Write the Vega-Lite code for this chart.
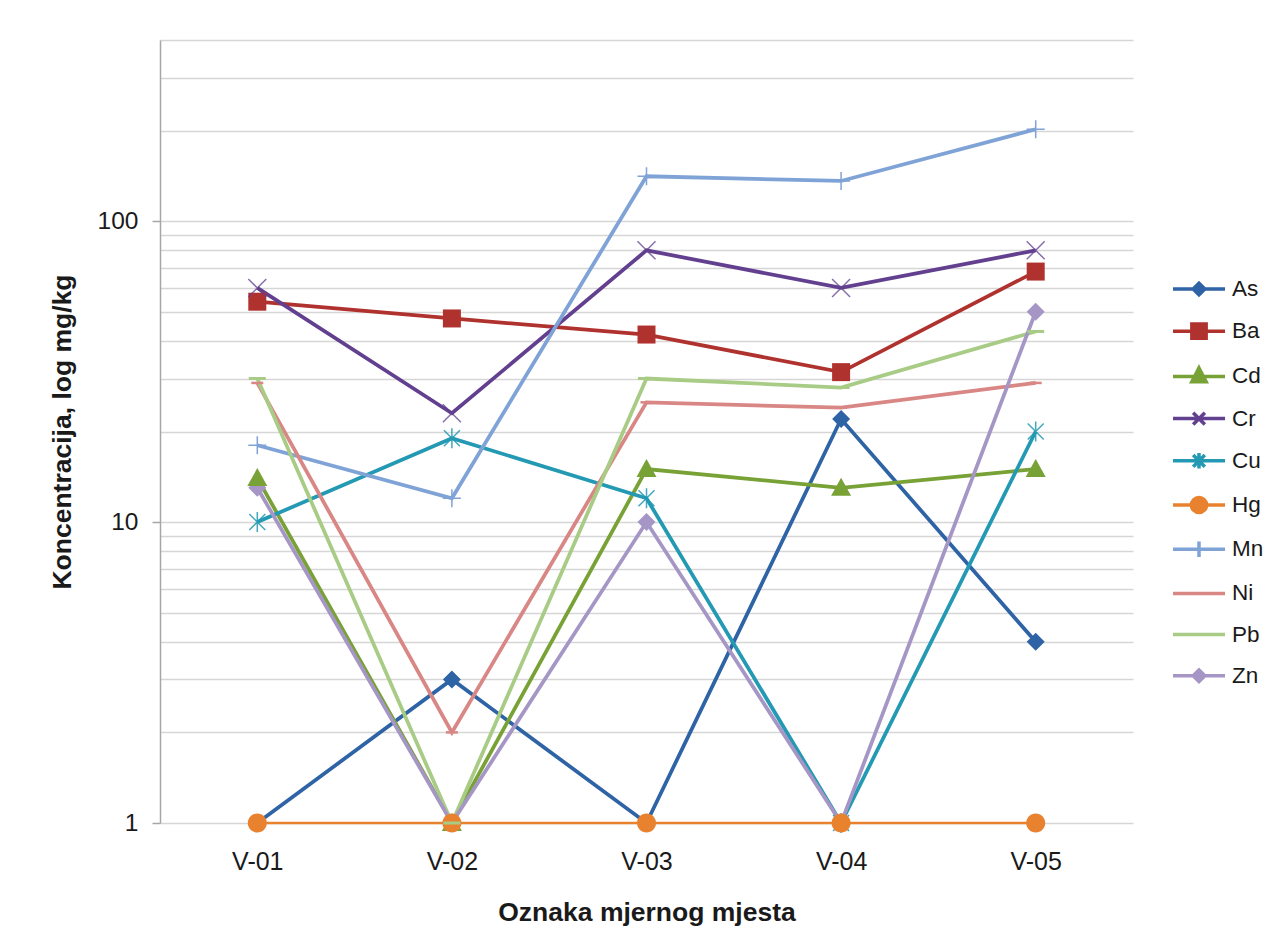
{
  "$schema": "https://vega.github.io/schema/vega-lite/v6.json",
  "autosize": {"type": "none"},
  "padding": {"left": 160, "top": 40, "right": 151, "bottom": 127},
  "width": 973,
  "height": 783,
  "background": "white",
  "config": {
    "font": "Liberation Sans",
    "view": {"stroke": null},
    "axis": {"labelFont": "Liberation Sans", "titleFont": "Liberation Sans", "labelColor": "#1a1a1a", "titleColor": "#1a1a1a"},
    "legend": {
      "labelFont": "Liberation Sans",
      "title": null, "orient": "none", "legendX": 1024, "legendY": 234, "padding": 0,
      "symbolSize": 676, "symbolStrokeWidth": 3.5, "labelFontSize": 22.5, "labelColor": "#1a1a1a",
      "labelOffset": 18, "rowPadding": 14.2, "symbolOpacity": 1
    }
  },
  "data": {
    "values": [
      {"site": "V-01", "element": "As", "v": 1},
      {"site": "V-02", "element": "As", "v": 3},
      {"site": "V-03", "element": "As", "v": 1},
      {"site": "V-04", "element": "As", "v": 22},
      {"site": "V-05", "element": "As", "v": 4},
      {"site": "V-01", "element": "Ba", "v": 54},
      {"site": "V-02", "element": "Ba", "v": 47.5},
      {"site": "V-03", "element": "Ba", "v": 42},
      {"site": "V-04", "element": "Ba", "v": 31.5},
      {"site": "V-05", "element": "Ba", "v": 68},
      {"site": "V-01", "element": "Cd", "v": 14},
      {"site": "V-02", "element": "Cd", "v": 1},
      {"site": "V-03", "element": "Cd", "v": 15},
      {"site": "V-04", "element": "Cd", "v": 13},
      {"site": "V-05", "element": "Cd", "v": 15},
      {"site": "V-01", "element": "Cr", "v": 60},
      {"site": "V-02", "element": "Cr", "v": 23},
      {"site": "V-03", "element": "Cr", "v": 80},
      {"site": "V-04", "element": "Cr", "v": 60},
      {"site": "V-05", "element": "Cr", "v": 80},
      {"site": "V-01", "element": "Cu", "v": 10},
      {"site": "V-02", "element": "Cu", "v": 19},
      {"site": "V-03", "element": "Cu", "v": 12},
      {"site": "V-04", "element": "Cu", "v": 1},
      {"site": "V-05", "element": "Cu", "v": 20},
      {"site": "V-01", "element": "Hg", "v": 1},
      {"site": "V-02", "element": "Hg", "v": 1},
      {"site": "V-03", "element": "Hg", "v": 1},
      {"site": "V-04", "element": "Hg", "v": 1},
      {"site": "V-05", "element": "Hg", "v": 1},
      {"site": "V-01", "element": "Mn", "v": 18},
      {"site": "V-02", "element": "Mn", "v": 12},
      {"site": "V-03", "element": "Mn", "v": 141},
      {"site": "V-04", "element": "Mn", "v": 136},
      {"site": "V-05", "element": "Mn", "v": 202},
      {"site": "V-01", "element": "Ni", "v": 29},
      {"site": "V-02", "element": "Ni", "v": 2},
      {"site": "V-03", "element": "Ni", "v": 25},
      {"site": "V-04", "element": "Ni", "v": 24},
      {"site": "V-05", "element": "Ni", "v": 29},
      {"site": "V-01", "element": "Pb", "v": 30},
      {"site": "V-02", "element": "Pb", "v": 1},
      {"site": "V-03", "element": "Pb", "v": 30},
      {"site": "V-04", "element": "Pb", "v": 28},
      {"site": "V-05", "element": "Pb", "v": 43},
      {"site": "V-01", "element": "Zn", "v": 13},
      {"site": "V-02", "element": "Zn", "v": 1},
      {"site": "V-03", "element": "Zn", "v": 10},
      {"site": "V-04", "element": "Zn", "v": 1},
      {"site": "V-05", "element": "Zn", "v": 50}
    ]
  },
  "encoding": {
    "x": {
      "field": "site",
      "type": "ordinal",
      "scale": {"type": "point", "padding": 0.5},
      "axis": {
        "title": "Oznaka mjernog mjesta",
        "labelAngle": 0,
        "labelFontSize": 25,
        "labelPadding": 26,
        "ticks": false,
        "tickSize": 0,
        "domain": false,
        "titleFontSize": 26.5,
        "titleFontWeight": "bold",
        "titleY": 89,
        "titleBaseline": "middle"
      }
    },
    "y": {
      "field": "v",
      "type": "quantitative",
      "scale": {"type": "log", "domain": [1, 400], "nice": false},
      "axis": {
        "title": "Koncentracija, log mg/kg",
        "values": [1, 2, 3, 4, 5, 6, 7, 8, 9, 10, 20, 30, 40, 50, 60, 70, 80, 90, 100, 200, 300, 400],
        "format": "d",
        "labelExpr": "datum.value == 1 || datum.value == 10 || datum.value == 100 ? datum.label : ''",
        "labelFontSize": 24.5,
        "labelPadding": 14,
        "tickSize": 8,
        "tickColor": "#a6a6a6",
        "tickWidth": 1.5,
        "tickOpacity": {"condition": {"test": "datum.value == 1 || datum.value == 10 || datum.value == 100", "value": 1}, "value": 0},
        "domainColor": "#a6a6a6",
        "domainWidth": 1.5,
        "grid": true,
        "gridColor": "#d6d6d6",
        "gridWidth": 1.5,
        "titleFontSize": 26.5,
        "titleFontWeight": "bold",
        "titleAngle": -90,
        "titleX": -98,
        "titleY": 391.5,
        "titleAlign": "center",
        "titleBaseline": "middle"
      }
    },
    "color": {
      "field": "element", "type": "nominal",
      "scale": {
        "domain": ["As", "Ba", "Cd", "Cr", "Cu", "Hg", "Mn", "Ni", "Pb", "Zn"],
        "range": ["#2E63A6", "#B0322F", "#78A136", "#62408F", "#2399B3", "#E8822F", "#7FA3D6", "#D98785", "#A8CC85", "#A596C6"]
      }
    }
  },
  "layer": [
    {
      "transform": [{"filter": "datum.element == 'Hg'"}],
      "mark": {"type": "line", "strokeWidth": 2.5}
    },
    {
      "transform": [{"filter": "datum.element != 'Hg'"}],
      "mark": {"type": "line", "strokeWidth": 3.75}
    },
    {
      "transform": [{"filter": "datum.element == 'As' || datum.element == 'Zn'"}],
      "mark": {"type": "point", "filled": true, "opacity": 1, "size": 400, "shape": "M0,-0.9L0.9,0L0,0.9L-0.9,0Z"}
    },
    {
      "transform": [{"filter": "datum.element == 'Ba'"}],
      "mark": {"type": "point", "filled": true, "opacity": 1, "size": 400, "shape": "M-0.9,-0.9H0.9V0.9H-0.9Z"}
    },
    {
      "transform": [{"filter": "datum.element == 'Cd'"}],
      "mark": {"type": "point", "filled": true, "opacity": 1, "size": 400, "shape": "M0,-1L1,0.8L-1,0.8Z"}
    },
    {
      "transform": [{"filter": "datum.element == 'Cr'"}],
      "mark": {"type": "point", "filled": false, "opacity": 0.75, "size": 400, "strokeWidth": 1.5, "shape": "M-0.9,-0.9L0.9,0.9M0.9,-0.9L-0.9,0.9"}
    },
    {
      "transform": [{"filter": "datum.element == 'Cu'"}],
      "mark": {"type": "point", "filled": false, "opacity": 0.85, "size": 400, "strokeWidth": 1.5, "shape": "M-0.8,-0.8L0.8,0.8M0.8,-0.8L-0.8,0.8M0,-1V1"}
    },
    {
      "transform": [{"filter": "datum.element == 'Hg'"}],
      "mark": {"type": "point", "filled": true, "opacity": 1, "size": 400, "shape": "M-0.95,0A0.95,0.95 0 1,0 0.95,0A0.95,0.95 0 1,0 -0.95,0Z"}
    },
    {
      "transform": [{"filter": "datum.element == 'Mn'"}],
      "mark": {"type": "point", "filled": false, "opacity": 1, "size": 400, "strokeWidth": 1.5, "shape": "M0,-0.9V0.9M-0.9,0H0.9"}
    },
    {
      "transform": [{"filter": "datum.element == 'Ni'"}],
      "mark": {"type": "point", "filled": false, "opacity": 1, "size": 400, "strokeWidth": 2.5, "shape": "M-0.6,0H0.6"}
    },
    {
      "transform": [{"filter": "datum.element == 'Pb'"}],
      "mark": {"type": "point", "filled": false, "opacity": 1, "size": 400, "strokeWidth": 3, "shape": "M-0.85,0H0.85"}
    },
    {
      "transform": [{"filter": "datum.v < 0"}],
      "mark": {"type": "point", "filled": true, "size": 676, "strokeWidth": 3.5, "opacity": 1},
      "encoding": {
        "fill": {
          "field": "element", "type": "nominal",
          "scale": {
            "domain": ["As", "Ba", "Cd", "Cr", "Cu", "Hg", "Mn", "Ni", "Pb", "Zn"],
            "range": ["#2E63A6", "#B0322F", "#78A136", "#62408F", "#2399B3", "#E8822F", "#7FA3D6", "#D98785", "#A8CC85", "#A596C6"]
          }
        },
        "stroke": {
          "field": "element", "type": "nominal",
          "scale": {
            "domain": ["As", "Ba", "Cd", "Cr", "Cu", "Hg", "Mn", "Ni", "Pb", "Zn"],
            "range": ["#2E63A6", "#B0322F", "#78A136", "#62408F", "#2399B3", "#E8822F", "#7FA3D6", "#D98785", "#A8CC85", "#A596C6"]
          }
        },
        "shape": {
          "field": "element", "type": "nominal",
          "scale": {
            "domain": ["As", "Ba", "Cd", "Cr", "Cu", "Hg", "Mn", "Ni", "Pb", "Zn"],
            "range": [
              "M-2,0H2M0,-0.45L0.45,0L0,0.45L-0.45,0Z",
              "M-2,0H2M-0.55,-0.55H0.55V0.55H-0.55Z",
              "M-2,0H2M0,-0.65L0.55,0.42H-0.55Z",
              "M-2,0H2M-0.45,-0.45L0.45,0.45M0.45,-0.45L-0.45,0.45",
              "M-2,0H2M-0.45,-0.45L0.45,0.45M0.45,-0.45L-0.45,0.45M0,-0.6V0.6",
              "M-2,0H2M-0.58,0A0.58,0.58 0 1,0 0.58,0A0.58,0.58 0 1,0 -0.58,0Z",
              "M-2,0H2M0,-0.6V0.6",
              "M-2,0H2",
              "M-2,0H2",
              "M-2,0H2M0,-0.45L0.45,0L0,0.45L-0.45,0Z"
            ]
          }
        }
      }
    }
  ]
}
